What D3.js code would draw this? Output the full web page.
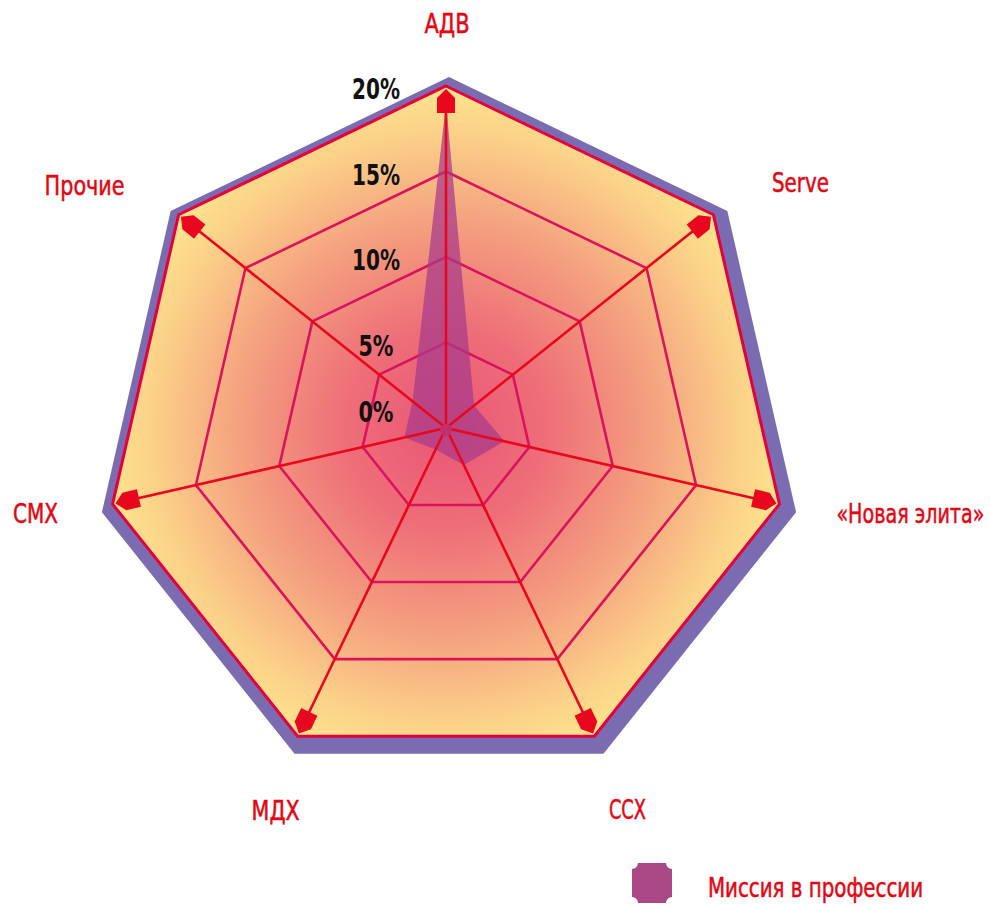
<!DOCTYPE html>
<html>
<head>
<meta charset="utf-8">
<script src="https://cdn.jsdelivr.net/npm/d3@7"></script>
<style>
  html, body { margin: 0; padding: 0; background: #ffffff; }
  svg { display: block; }
  .cond { font-family: "Liberation Sans Narrow", "DejaVu Sans Condensed", "Arial Narrow", sans-serif; }
</style>
</head>
<body>
<svg id="chart" width="991" height="906"></svg>
<script>
// ---- data ----
const categories = ["АДВ", "Serve", "«Новая элита»", "ССХ", "МДХ", "СМХ", "Прочие"];
const missionValues = [19, 2.1, 3.5, 2.4, 1.4, 2.5, 2.5];
const tickValues = [0, 5, 10, 15, 20];
const tickLabels = ["0%", "5%", "10%", "15%", "20%"];
const seriesName = "Миссия в профессии";

// ---- layout ----
const W = 991, H = 906;
const cx = 446, cy = 428, R = 342;
const labelNudge = [[1, -63], [87, -32], [131, 9], [33, 73], [-22, 74], [-77, 9], [-94, -29]];
const labelWidth = [45, 57, 148, 37, 48, 45, 80];
const tickWidth = [35, 35, 48, 48, 48];

const svg = d3.select("#chart");
const n = categories.length;
const angle = d3.scaleLinear().domain([0, n]).range([0, 2 * Math.PI]);
const r = d3.scaleLinear().domain([0, 20]).range([0, R]);

function pt(i, rad) {
  const a = angle(i);
  return [cx + rad * Math.sin(a), cy - rad * Math.cos(a)];
}

const defs = svg.append("defs");
const grad = defs.append("radialGradient")
  .attr("id", "bg").attr("gradientUnits", "userSpaceOnUse")
  .attr("cx", cx).attr("cy", cy).attr("r", R);
[[0, "#ea5577"], [0.3, "#ee6f78"], [0.6, "#f4a07f"], [0.85, "#fbcf88"], [1, "#fde58d"]]
  .forEach(([o, c]) => grad.append("stop").attr("offset", o).attr("stop-color", c));

const line = d3.line().curve(d3.curveLinearClosed);
const ringPts = v => d3.range(n).map(i => pt(i, r(v)));

// purple frame
svg.append("path")
  .attr("d", line(d3.range(n).map(i => pt(i, r(20) + 14))))
  .attr("transform", "translate(3,5)")
  .attr("fill", "#7b6cb1");

// gradient area
svg.append("path")
  .attr("d", line(ringPts(20)))
  .attr("fill", "url(#bg)");

// inner rings
svg.append("g").selectAll("path")
  .data(tickValues.filter(v => v > 0 && v < 20))
  .join("path")
  .attr("d", v => line(ringPts(v)))
  .attr("fill", "none")
  .attr("stroke", "#d9145c")
  .attr("stroke-width", 2.6);

// data polygon
svg.append("path")
  .attr("d", line(missionValues.map((v, i) => pt(i, r(v)))))
  .attr("fill", "#a63a8a")
  .attr("fill-opacity", 0.72);

// spokes
svg.append("g").selectAll("line")
  .data(d3.range(n))
  .join("line")
  .attr("x1", cx).attr("y1", cy)
  .attr("x2", i => pt(i, R - 16)[0])
  .attr("y2", i => pt(i, R - 16)[1])
  .attr("stroke", "#e8071f")
  .attr("stroke-width", 2.6);

// outer polygon stroke
svg.append("path")
  .attr("d", line(ringPts(20)))
  .attr("fill", "none")
  .attr("stroke", "#e5003d")
  .attr("stroke-width", 3);

// arrowheads (pointing outward)
svg.append("g").selectAll("path")
  .data(d3.range(n))
  .join("path")
  .attr("d", "M0,3 L9,12 L9,27 L-9,27 L-9,12 Z")
  .attr("transform", i => {
    const [x, y] = pt(i, R);
    return `translate(${x},${y}) rotate(${angle(i) * 180 / Math.PI})`;
  })
  .attr("fill", "#e8071f");

// hub
svg.append("circle").attr("cx", cx).attr("cy", cy + 2).attr("r", 6).attr("fill", "#c2306c");

// tick labels
svg.append("g").selectAll("text")
  .data(tickValues)
  .join("text")
  .attr("class", "cond")
  .attr("x", cx - 70)
  .attr("y", v => Math.min(cy - r(v) + 3, cy - 16))
  .attr("dy", "0.36em")
  .attr("text-anchor", "middle")
  .attr("font-size", 28)
  .attr("font-weight", "bold")
  .attr("fill", "#111111")
  .attr("textLength", (v, i) => tickWidth[i])
  .attr("lengthAdjust", "spacingAndGlyphs")
  .text((v, i) => tickLabels[i]);

// category labels
svg.append("g").selectAll("text")
  .data(categories)
  .join("text")
  .attr("class", "cond")
  .attr("x", (d, i) => pt(i, R)[0] + labelNudge[i][0])
  .attr("y", (d, i) => pt(i, R)[1] + labelNudge[i][1])
  .attr("dy", "0.36em")
  .attr("text-anchor", "middle")
  .attr("font-size", 27)
  .attr("fill", "#e30613")
  .attr("stroke", "#e30613")
  .attr("stroke-width", 0.5)
  .attr("textLength", (d, i) => labelWidth[i])
  .attr("lengthAdjust", "spacingAndGlyphs")
  .text(d => d);

// legend
const lg = svg.append("g").attr("transform", "translate(632,863)");
const s = 40, c = 6;
lg.append("path")
  .attr("d", `M${c},0 L${s - c},0 A${c},${c} 0 0 0 ${s},${c} L${s},${s - c} A${c},${c} 0 0 0 ${s - c},${s} L${c},${s} A${c},${c} 0 0 0 0,${s - c} L0,${c} A${c},${c} 0 0 0 ${c},0 Z`)
  .attr("fill", "#aa4986");
lg.append("text")
  .attr("class", "cond")
  .attr("x", 76).attr("y", 24)
  .attr("dy", "0.36em")
  .attr("font-size", 27)
  .attr("fill", "#e30613")
  .attr("stroke", "#e30613")
  .attr("stroke-width", 0.5)
  .attr("textLength", 215)
  .attr("lengthAdjust", "spacingAndGlyphs")
  .text(seriesName);
</script>
</body>
</html>
